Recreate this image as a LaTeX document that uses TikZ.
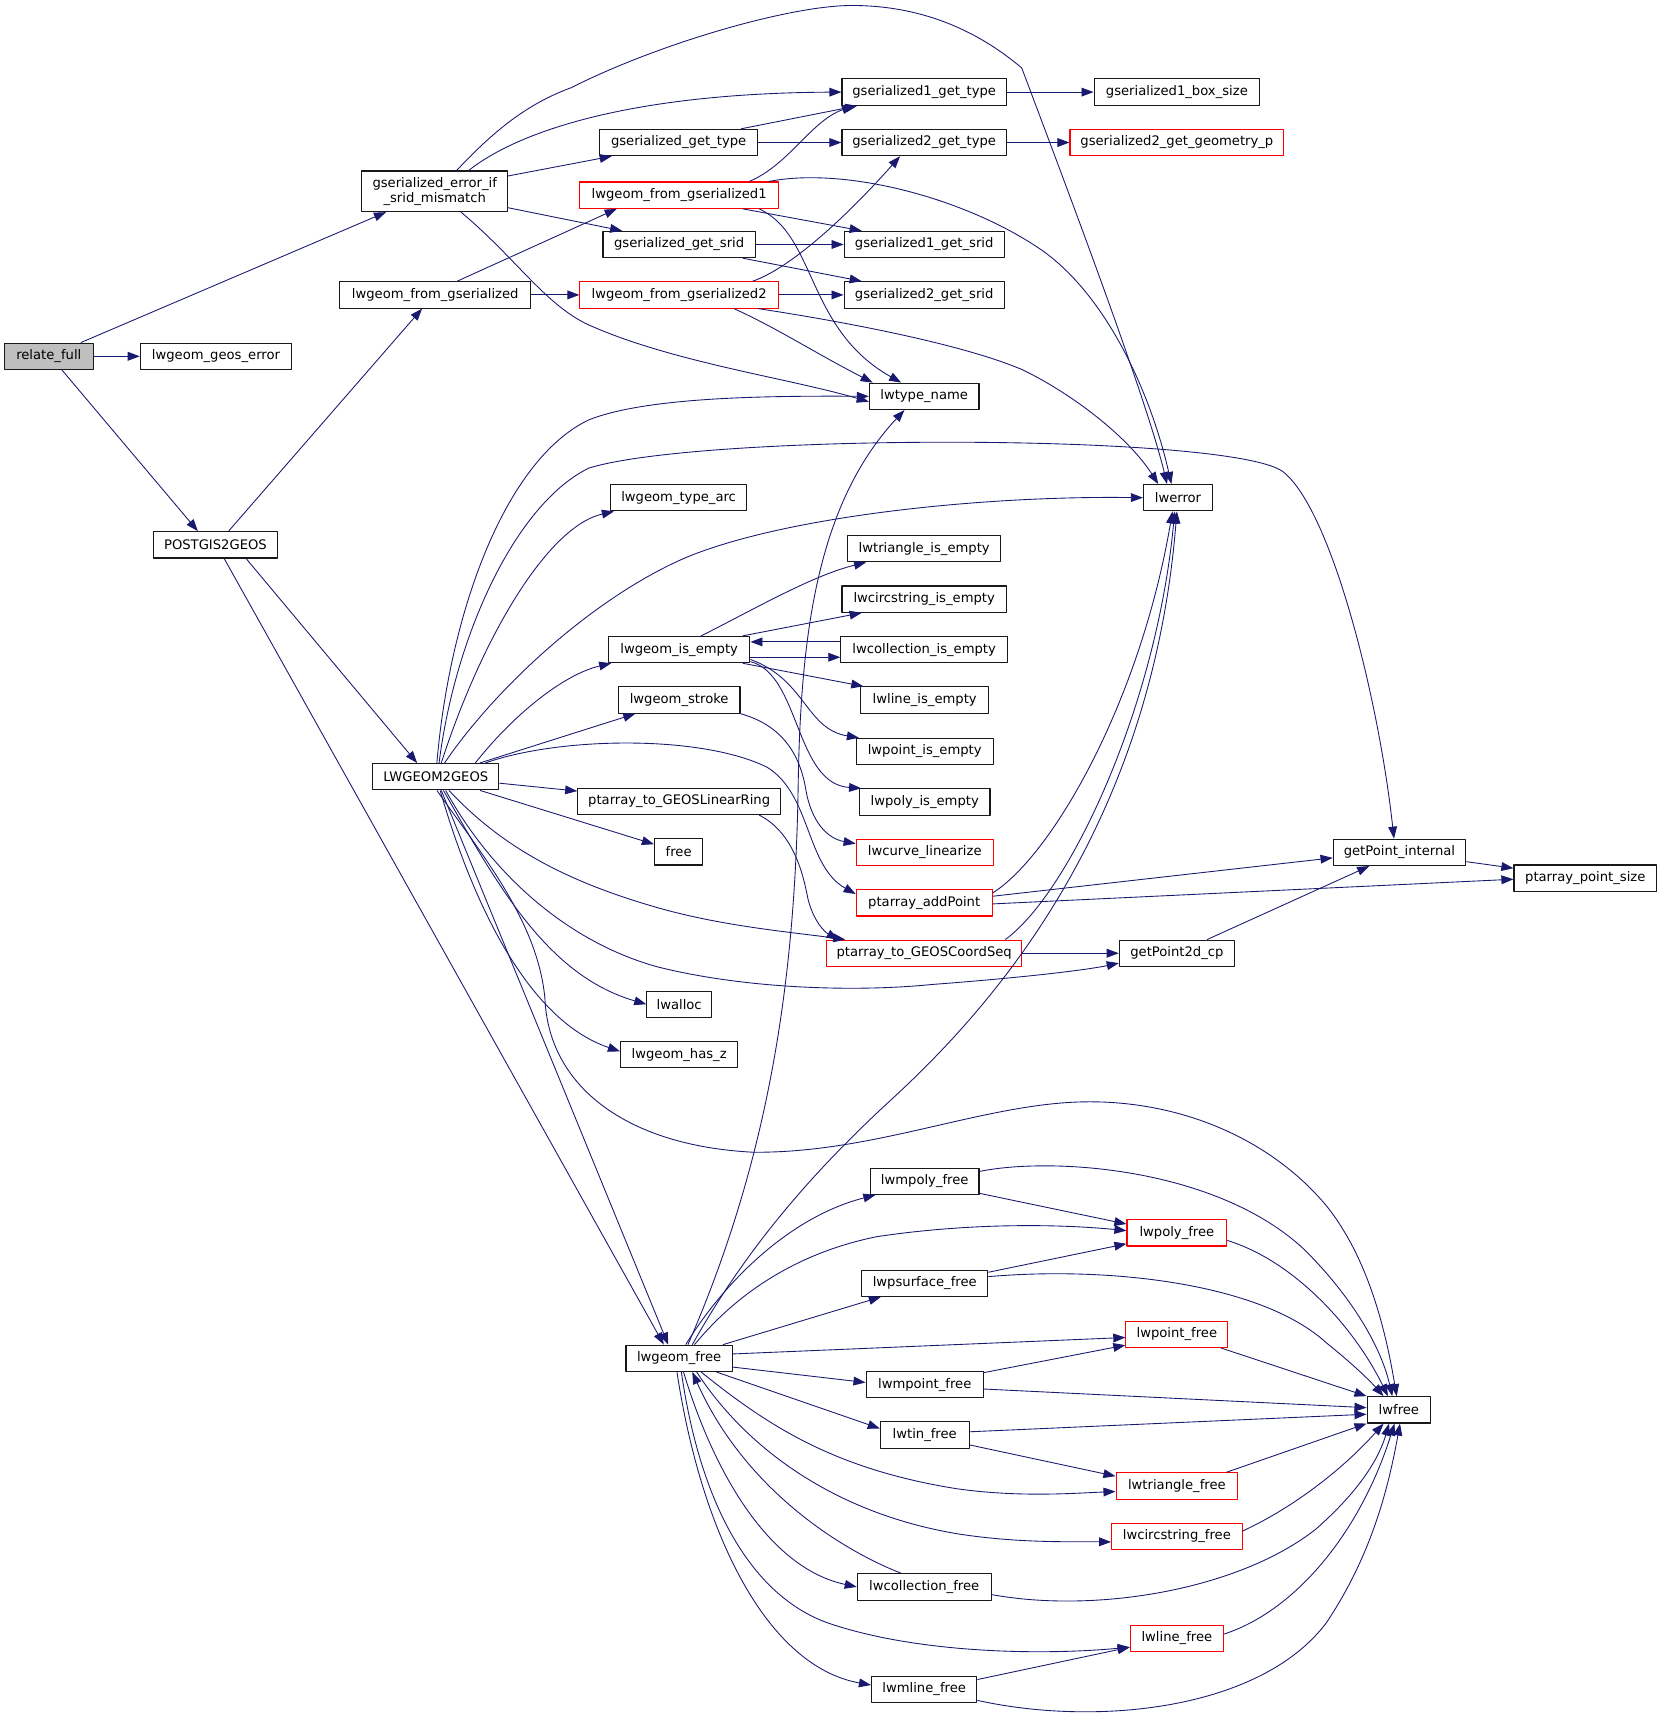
\documentclass[tikz,border=0pt]{standalone}
\usepackage{fontspec}
\setmainfont{DejaVu Sans}
\usetikzlibrary{arrows.meta}
\definecolor{edgeblue}{RGB}{25,25,112}
\definecolor{boxgray}{RGB}{191,191,191}
\begin{document}
\begin{tikzpicture}[x=1pt, y=-1pt, font=\fontsize{12}{14}\selectfont, line join=round, >={Triangle[length=11pt,width=8pt]},
		fn/.style={draw=black!90, line width=1pt, minimum height=24pt, inner sep=0pt, fill=white},
		fnred/.style={fn, draw=red},
		call/.style={draw=edgeblue, line width=0.8pt, ->}]
	\useasboundingbox (0,0) rectangle (1517,1568);
	% column 1 and 2
	\node[fn, fill=boxgray, minimum width=81pt] (relfull) at (44.5,325) {relate\_full};
	\node[fn, minimum width=138pt] (geoserr) at (197,325) {lwgeom\_geos\_error};
	\node[fn, minimum width=113pt] (p2g) at (196.5,497) {POSTGIS2GEOS};
	% column 3
	\node[fn, minimum width=133pt, minimum height=37pt, align=center] (gsem) at (396.5,174.5) {gserialized\_error\_if\\\_srid\_mismatch};
	\node[fn, minimum width=174pt] (lwgfg) at (397,269) {lwgeom\_from\_gserialized};
	\node[fn, minimum width=115pt] (l2g) at (397.5,708.5) {LWGEOM2GEOS};
	% column 4
	\node[fn, minimum width=144pt] (ggtype) at (619,130) {gserialized\_get\_type};
	\node[fnred, minimum width=181pt] (lwgfg1) at (619.5,178) {lwgeom\_from\_gserialized1};
	\node[fn, minimum width=139pt] (ggsrid) at (619.5,223) {gserialized\_get\_srid};
	\node[fnred, minimum width=181pt] (lwgfg2) at (619.5,269) {lwgeom\_from\_gserialized2};
	\node[fn, minimum width=124pt] (typearc) at (619,454) {lwgeom\_type\_arc};
	\node[fn, minimum width=129pt] (lwgie) at (619.5,592.5) {lwgeom\_is\_empty};
	\node[fn, minimum width=111pt] (lwgstroke) at (619.5,638.5) {lwgeom\_stroke};
	\node[fn, minimum width=185pt] (linring) at (619.5,731) {ptarray\_to\_GEOSLinearRing};
	\node[fn, minimum width=44pt] (free) at (619,777) {free};
	\node[fn, minimum width=59pt] (lwalloc) at (619.5,916) {lwalloc};
	\node[fn, minimum width=107pt] (hasz) at (619.5,962) {lwgeom\_has\_z};
	\node[fn, minimum width=97pt] (lwgfree) at (619.5,1239) {lwgeom\_free};
	% column 5
	\node[fn, minimum width=150pt] (g1type) at (843,84) {gserialized1\_get\_type};
	\node[fn, minimum width=150pt] (g2type) at (843,130) {gserialized2\_get\_type};
	\node[fn, minimum width=146pt] (g1srid) at (843,223) {gserialized1\_get\_srid};
	\node[fn, minimum width=146pt] (g2srid) at (843,269) {gserialized2\_get\_srid};
	\node[fn, minimum width=100pt] (lwtname) at (843,361.5) {lwtype\_name};
	\node[fn, minimum width=140pt] (trie) at (843,500.5) {lwtriangle\_is\_empty};
	\node[fn, minimum width=150pt] (circe) at (843,546.5) {lwcircstring\_is\_empty};
	\node[fn, minimum width=152pt] (colle) at (843,592.5) {lwcollection\_is\_empty};
	\node[fn, minimum width=117pt] (linee) at (843.5,638.5) {lwline\_is\_empty};
	\node[fn, minimum width=125pt] (pointe) at (843.5,685.5) {lwpoint\_is\_empty};
	\node[fn, minimum width=119pt] (polye) at (843.5,731.5) {lwpoly\_is\_empty};
	\node[fnred, minimum width=125pt] (curvelin) at (843.5,777.5) {lwcurve\_linearize};
	\node[fnred, minimum width=124pt] (addpt) at (843,823.5) {ptarray\_addPoint};
	\node[fnred, minimum width=178pt] (coordseq) at (843,869.5) {ptarray\_to\_GEOSCoordSeq};
	\node[fn, minimum width=99pt] (mpolyf) at (843.5,1077.5) {lwmpoly\_free};
	\node[fn, minimum width=115pt] (psurff) at (843.5,1170.5) {lwpsurface\_free};
	\node[fn, minimum width=107pt] (mpointf) at (843.5,1263) {lwmpoint\_free};
	\node[fn, minimum width=81pt] (tinf) at (843.5,1309) {lwtin\_free};
	\node[fn, minimum width=122pt] (collf) at (843,1447.5) {lwcollection\_free};
	\node[fn, minimum width=96pt] (mlinef) at (843,1541) {lwmline\_free};
	% column 6
	\node[fn, minimum width=151pt] (g1box) at (1073.5,84) {gserialized1\_box\_size};
	\node[fnred, minimum width=195pt] (g2geom) at (1073.5,130) {gserialized2\_get\_geometry\_p};
	\node[fn, minimum width=63pt] (lwerr) at (1074.5,454) {lwerror};
	\node[fn, minimum width=105pt] (gp2d) at (1073.5,869.5) {getPoint2d\_cp};
	\node[fnred, minimum width=91pt] (polyf) at (1073.5,1124.5) {lwpoly\_free};
	\node[fnred, minimum width=93pt] (pointf) at (1073.5,1217) {lwpoint\_free};
	\node[fnred, minimum width=111pt] (trif) at (1073.5,1355.5) {lwtriangle\_free};
	\node[fnred, minimum width=119pt] (circf) at (1073.5,1401.5) {lwcircstring\_free};
	\node[fnred, minimum width=85pt] (linef) at (1073.5,1494.5) {lwline\_free};
	% column 7 and 8
	\node[fn, minimum width=121pt] (gpint) at (1276.5,777.5) {getPoint\_internal};
	\node[fn, minimum width=58pt] (lwfree) at (1276,1286) {lwfree};
	\node[fn, minimum width=130pt] (ptsize) at (1446,801) {ptarray\_point\_size};
	% straight calls
	\foreach \a/\b in {relfull/gsem, relfull/geoserr, ggtype/g2type, lwgfg/lwgfg2, ggsrid/g1srid, lwgfg2/g2srid, g1type/g1box, g2type/g2geom, l2g/linring, l2g/free, coordseq/gp2d, gpint/ptsize, gp2d/gpint}
		\draw[call] (\a) -- (\b);
	\draw[call] ([xshift=12]relfull.south) -- ([xshift=-16]p2g.north);
	% gserialized_error_if_srid_mismatch
	\draw[call] ([xshift=31]gsem.north) .. controls (475,118) and (580,85) .. (g1type.west);
	\draw[call] ([xshift=20]gsem.north) .. controls (450,120) and (480,95) .. (521,80) .. controls (600,40) and (720,5) .. (777,5) .. controls (850,5) and (900,35) .. (932,62) .. controls (965,150) and (1045,360) .. ([xshift=-10]lwerr.north);
	\draw[call] ([yshift=14]gsem.east) -- ([xshift=-61]ggtype.south);
	\draw[call] ([yshift=-15]gsem.east) -- ([xshift=-52]ggsrid.north);
	\draw[call] ([xshift=24]gsem.south) .. controls (470,235) and (495,275) .. (534,295) .. controls (610,330) and (720,345) .. ([yshift=-5]lwtname.west);
	\draw[call] ([xshift=57]ggtype.north) -- ([xshift=-61]g1type.south);
	% lwgeom_from_gserialized
	\draw[call] ([xshift=20]lwgfg.north) -- ([xshift=-57]lwgfg1.south);
	\draw[call] ([xshift=64]lwgfg1.north) .. controls (720,150) and (740,110) .. ([xshift=-64]g1type.south);
	\draw[call] ([xshift=58]lwgfg1.south) -- ([xshift=-57]g1srid.north);
	\draw[call] ([xshift=82]lwgfg1.north) .. controls (770,152) and (880,180) .. (950,228) .. controls (1010,270) and (1050,360) .. ([xshift=-6]lwerr.north);
	\draw[call] ([xshift=73]lwgfg1.south) .. controls (745,215) and (735,300) .. ([xshift=-21]lwtname.north);
	\draw[call] ([xshift=58]ggsrid.south) -- ([xshift=-57]g2srid.north);
	\draw[call] ([xshift=67]lwgfg2.north) .. controls (720,245) and (770,200) .. ([xshift=-22]g2type.south);
	\draw[call] ([xshift=50]lwgfg2.south) .. controls (710,300) and (740,320) .. ([xshift=-47]lwtname.north);
	\draw[call] ([xshift=72]lwgfg2.south) .. controls (780,295) and (880,315) .. (932,337) .. controls (980,360) and (1030,400) .. ([xshift=-18]lwerr.north);
	% POSTGIS2GEOS
	\draw[call] ([xshift=12]p2g.north) -- ([xshift=-12]lwgfg.south);
	\draw[call] ([xshift=28]p2g.south) -- ([xshift=-17]l2g.north);
	\draw[call] ([xshift=8]p2g.south) -- ([xshift=-14]lwgfree.north);
	% LWGEOM2GEOS
	\draw[call] ([xshift=1]l2g.north) .. controls (410,560) and (460,420) .. (537,383) .. controls (590,362) and (700,361) .. (lwtname.west);
	\draw[call] ([xshift=3]l2g.north) .. controls (415,580) and (470,460) .. (537,427) .. controls (640,395) and (1120,395) .. (1170,430) .. controls (1215,465) and (1258,640) .. ([xshift=-5]gpint.north);
	\draw[call] ([xshift=5]l2g.north) .. controls (440,580) and (500,480) .. ([xshift=-59]typearc.south);
	\draw[call] ([xshift=8]l2g.north) .. controls (450,630) and (540,545) .. (627,508) .. controls (720,470) and (900,452) .. (lwerr.west);
	\draw[call] ([xshift=36]l2g.north) .. controls (470,650) and (515,615) .. ([xshift=-62]lwgie.south);
	\draw[call] ([xshift=40]l2g.north) -- ([xshift=-40]lwgstroke.south);
	\draw[call] ([xshift=45]l2g.north) .. controls (510,672) and (640,670) .. (700,700) .. controls (740,725) and (735,790) .. ([yshift=8]addpt.west);
	\draw[call] ([xshift=12]l2g.south) .. controls (460,775) and (520,805) .. (600,828) .. controls (660,845) and (720,850) .. ([xshift=-72]coordseq.north);
	\draw[call] ([xshift=9]l2g.south) .. controls (450,800) and (520,860) .. (600,882) .. controls (680,902) and (780,905) .. (850,898) .. controls (930,892) and (990,885) .. ([yshift=-9]gp2d.west);
	\draw[call] ([xshift=7]l2g.south) .. controls (455,810) and (500,890) .. (lwalloc.west);
	\draw[call] ([xshift=4]l2g.south) .. controls (430,820) and (480,930) .. ([yshift=3]hasz.west);
	\draw[call] ([xshift=1]l2g.south) .. controls (440,780) and (490,840) .. (497,910) .. controls (500,990) and (570,1045) .. (687,1051) .. controls (800,1052) and (900,1005) .. (994,1005) .. controls (1080,1005) and (1160,1040) .. (1210,1100) .. controls (1250,1150) and (1265,1220) .. ([xshift=-2]lwfree.north);
	\draw[call] ([xshift=5]l2g.south) -- ([xshift=-10]lwgfree.north);
	% lwgeom_is_empty
	\draw[call] ([xshift=20]lwgie.north) .. controls (680,560) and (740,525) .. ([xshift=-53]trie.south);
	\draw[call] ([xshift=58]lwgie.north) -- ([xshift=-57]circe.south);
	\draw[call] ([yshift=7]colle.west) -- ([yshift=7]lwgie.east);
	\draw[call] ([yshift=-7]lwgie.east) -- ([yshift=-7]colle.west);
	\draw[call] ([xshift=58]lwgie.south) -- ([xshift=-56]linee.north);
	\draw[call] ([yshift=-9]lwgie.east) .. controls (735,620) and (735,665) .. ([xshift=-60]pointe.north);
	\draw[call] ([yshift=-11]lwgie.east) .. controls (730,615) and (725,715) .. ([xshift=-58]polye.north);
	\draw[call] (lwgstroke.south east) .. controls (715,662) and (730,690) .. (735,720) .. controls (740,750) and (755,765) .. ([yshift=8]curvelin.west);
	\draw[call] ([xshift=73]linring.south) .. controls (725,760) and (733,800) .. (737,820) .. controls (742,840) and (752,850) .. ([xshift=-78]coordseq.north);
	% ptarray_addPoint and ptarray_to_GEOSCoordSeq
	\draw[call] ([yshift=6]addpt.east) -- ([yshift=-5]gpint.west);
	\draw[call] ([yshift=-1]addpt.east) -- ([yshift=-1]ptsize.west);
	\draw[call] ([yshift=9]addpt.east) .. controls (960,780) and (1040,640) .. ([xshift=-5]lwerr.south);
	\draw[call] ([xshift=74]coordseq.north) .. controls (975,815) and (1055,645) .. ([xshift=-3]lwerr.south);
	% lwgeom_free
	\draw[call] ([xshift=8]lwgfree.north) .. controls (700,1060) and (725,900) .. (728,720) .. controls (730,580) and (745,460) .. ([xshift=-18]lwtname.south);
	\draw[call] ([xshift=12]lwgfree.north) .. controls (680,1140) and (740,1070) .. (813,1003) .. controls (900,923) and (1050,760) .. ([xshift=-1]lwerr.south);
	\draw[call] ([xshift=6]lwgfree.north) .. controls (660,1170) and (720,1110) .. ([xshift=-45]mpolyf.south);
	\draw[call] ([xshift=14]lwgfree.north) .. controls (680,1170) and (740,1140) .. (800,1128) .. controls (880,1116) and (960,1116) .. ([yshift=2]polyf.west);
	\draw[call] ([xshift=40]lwgfree.north) -- ([xshift=-40]psurff.south);
	\draw[call] ([yshift=4]lwgfree.east) -- ([yshift=-3]pointf.west);
	\draw[call] ([yshift=-8]lwgfree.east) -- ([yshift=2]mpointf.west);
	\draw[call] ([xshift=34]lwgfree.south) -- ([yshift=6]tinf.west);
	\draw[call] ([xshift=20]lwgfree.south) .. controls (700,1300) and (760,1340) .. (873,1358) .. controls (930,1366) and (980,1362) .. ([yshift=-5]trif.west);
	\draw[call] ([xshift=16]lwgfree.south) .. controls (680,1320) and (760,1380) .. (873,1399) .. controls (930,1408) and (980,1406) .. ([yshift=-5]circf.west);
	\draw[call] ([xshift=4]lwgfree.south) .. controls (650,1340) and (700,1430) .. (collf.west);
	\draw[call] ([xshift=-21]collf.north) .. controls (770,1415) and (680,1360) .. ([xshift=12]lwgfree.south);
	\draw[call] ([xshift=2]lwgfree.south) .. controls (640,1380) and (690,1460) .. (760,1482) .. controls (840,1508) and (950,1510) .. ([yshift=-8]linef.west);
	\draw[call] ([xshift=-2]lwgfree.south) .. controls (640,1400) and (700,1520) .. ([yshift=4]mlinef.west);
	% the free functions
	\draw[call] ([yshift=-11]mpolyf.east) -- ([yshift=8]polyf.west);
	\draw[call] ([yshift=9]mpolyf.east) .. controls (960,1055) and (1110,1065) .. (1190,1140) .. controls (1235,1185) and (1260,1230) .. ([xshift=-6]lwfree.north);
	\draw[call] ([yshift=-7]polyf.east) .. controls (1180,1150) and (1235,1210) .. ([xshift=-10]lwfree.north);
	\draw[call] ([yshift=10]psurff.east) -- ([yshift=-10]polyf.west);
	\draw[call] ([yshift=6]psurff.east) .. controls (1010,1155) and (1150,1170) .. (1210,1225) .. controls (1235,1245) and (1250,1260) .. ([xshift=-14]lwfree.north);
	\draw[call] ([xshift=40]pointf.south) -- (lwfree.north west);
	\draw[call] ([yshift=11]mpointf.east) -- ([yshift=-10]pointf.west);
	\draw[call] ([yshift=-4]mpointf.east) -- ([yshift=2]lwfree.west);
	\draw[call] ([yshift=3]tinf.east) -- ([yshift=-4]lwfree.west);
	\draw[call] ([yshift=-9]tinf.east) -- ([yshift=9]trif.west);
	\draw[call] ([xshift=45]trif.north) -- (lwfree.south west);
	\draw[call] ([yshift=5]circf.east) .. controls (1180,1375) and (1225,1340) .. ([xshift=-14]lwfree.south);
	\draw[call] ([yshift=-7]collf.east) .. controls (1000,1472) and (1130,1450) .. (1200,1395) .. controls (1240,1360) and (1258,1330) .. ([xshift=-9]lwfree.south);
	\draw[call] ([yshift=4]linef.east) .. controls (1180,1470) and (1240,1400) .. ([xshift=-4]lwfree.south);
	\draw[call] ([yshift=9]mlinef.east) -- ([yshift=-8]linef.west);
	\draw[call] ([yshift=-10]mlinef.east) .. controls (1000,1575) and (1150,1560) .. (1210,1480) .. controls (1250,1420) and (1266,1360) .. ([xshift=1]lwfree.south);
\end{tikzpicture}
\end{document}
